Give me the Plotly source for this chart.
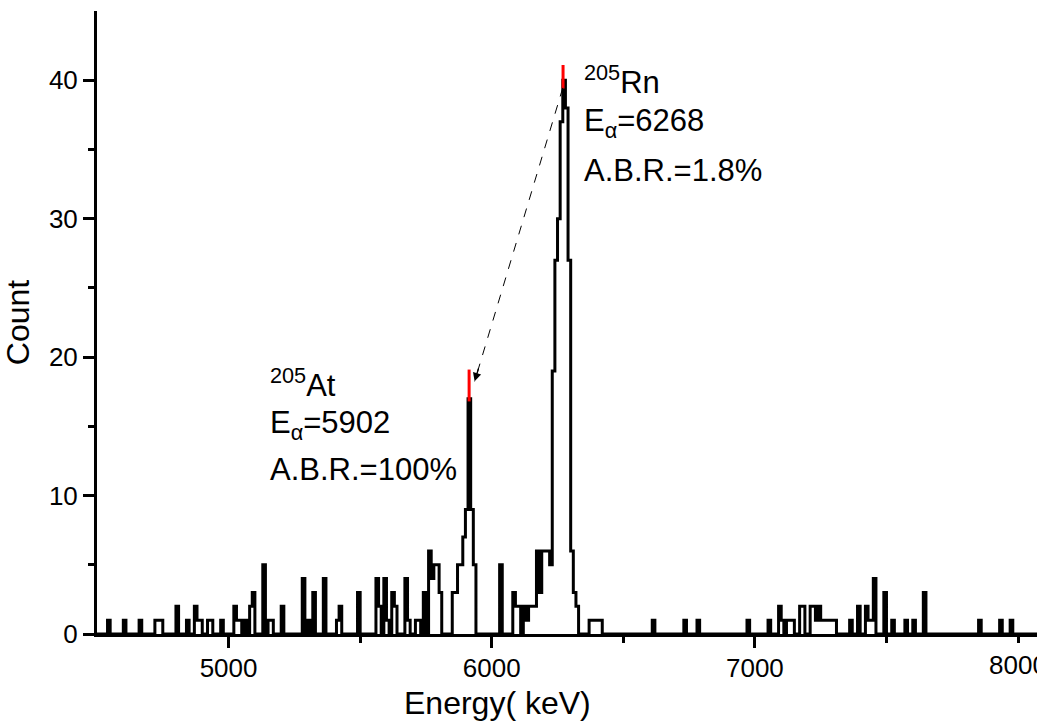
import numpy as np
import plotly.graph_objects as go

# ---- data: nonzero histogram bins (left edge in keV, 10 keV wide) ----
bin_left = [4540, 4600, 4660, 4720, 4730, 4740, 4800, 4840, 4870, 4880, 4890, 4920, 4930, 4970,
            5020, 5030, 5040, 5060, 5080, 5090, 5130, 5150, 5160, 5200, 5280, 5300, 5320, 5360,
            5410, 5420, 5490, 5560, 5570, 5590, 5600, 5620, 5630, 5670, 5680, 5710, 5720, 5740,
            5760, 5770, 5780, 5790, 5800,
            5850, 5860, 5870, 5880, 5890, 5900, 5910, 5920, 5930,
            6030, 6080, 6090, 6100, 6120, 6130, 6140, 6150, 6160,
            6170, 6180, 6190, 6200, 6210, 6220,
            6230, 6240, 6250, 6260, 6270, 6280, 6290, 6300, 6310, 6320,
            6370, 6380, 6390, 6400, 6410,
            6610, 6730, 6780, 6970, 7050, 7090, 7100, 7120, 7130, 7140, 7170, 7180,
            7210, 7220, 7230, 7240, 7250, 7260, 7270, 7280, 7290, 7300, 7360, 7390,
            7420, 7430, 7440, 7450, 7490, 7520, 7570, 7600, 7640, 7850, 7930, 7970]
bin_count = [1, 1, 1, 1, 1, 1, 2, 1, 2, 1, 1, 1, 1, 1,
             2, 1, 1, 1, 2, 3, 5, 1, 1, 2, 4, 1, 3, 4,
             1, 2, 3, 4, 2, 4, 1, 3, 2, 4, 1, 1, 1, 3,
             6, 4, 5, 5, 3,
             3, 3, 5, 5, 7, 9, 17, 9, 5,
             5, 3, 2, 2, 2, 1, 2, 2, 2,
             6, 3, 6, 6, 6, 5,
             19, 27, 30, 37, 40, 38, 27, 6, 3, 2,
             1, 1, 1, 1, 1,
             1, 1, 1, 1, 1, 2, 1, 1, 1, 1, 2, 2,
             2, 2, 1, 2, 1, 1, 1, 1, 1, 1, 1, 2,
             2, 1, 1, 4, 3, 1, 1, 1, 3, 1, 1, 1]
bin_width = 10
e_min, e_max = 4500, 8080

x_ticks = [5000, 6000, 7000, 8000]
y_ticks = [0, 10, 20, 30, 40]

# peaks: (energy marker, red low, red high), labels
at_marker = (5914, 16.8, 19.1)
rn_marker = (6271, 39.4, 41.1)
at_lines = ["<sup>205</sup>At", "E<sub>α</sub>=5902", "A.B.R.=100%"]
rn_lines = ["<sup>205</sup>Rn", "E<sub>α</sub>=6268", "A.B.R.=1.8%"]

# ---- build full histogram ----
edges = np.arange(e_min, e_max + bin_width, bin_width)
counts = np.zeros(len(edges) - 1)
for e, c in zip(bin_left, bin_count):
    counts[(e - e_min) // bin_width] = c
xs = edges
ys = np.append(counts, counts[-1])

fig = go.Figure()
fig.add_trace(go.Scatter(x=xs, y=ys, mode="lines", line=dict(shape="hv", color="black", width=3),
                         hoverinfo="skip", showlegend=False))

# red peak markers
for ex, lo, hi in [at_marker, rn_marker]:
    fig.add_shape(type="line", x0=ex, x1=ex, y0=lo, y1=hi, xref="x", yref="y",
                  line=dict(color="#ff0000", width=3))

# dashed arrow from Rn peak to At peak
tail = (6270, 39.45)
head = (5935, 18.25)
fig.add_shape(type="line", x0=tail[0], y0=tail[1], x1=head[0], y1=head[1], xref="x", yref="y",
              line=dict(color="black", width=1, dash="dash"))
fig.add_annotation(x=head[0], y=head[1], xref="x", yref="y", text="", showarrow=True,
                   ax=4.3, ay=-14.4, arrowhead=2, arrowsize=1.3, arrowwidth=1.3, arrowcolor="black")

font_fam = "Liberation Sans, Arial, sans-serif"
for lines, x0, ys_ in [(at_lines, 5148, [18.1, 15.1, 11.85]), (rn_lines, 6342, [40.0, 36.9, 33.5])]:
    for t, yy in zip(lines, ys_):
        fig.add_annotation(x=x0, y=yy, xref="x", yref="y", text=t, showarrow=False,
                           xanchor="left", yanchor="middle",
                           font=dict(family=font_fam, size=31, color="black"))

# 8000 tick label (clipped at the page edge like the reference)
fig.add_annotation(x=x_ticks[-1], y=0, xref="x", yref="paper", yshift=-14, text=str(x_ticks[-1]),
                   showarrow=False, xanchor="center", yanchor="top",
                   font=dict(family=font_fam, size=26, color="black"))

# x-axis title (offset left of the plot-area centre, as in the reference)
fig.add_annotation(x=(497 - 97) / 940, y=(634 - 703) / 623, xref="paper", yref="paper",
                   text="Energy( keV)", showarrow=False, xanchor="center", yanchor="middle",
                   font=dict(family=font_fam, size=32, color="black"))

fig.update_layout(
    width=1037, height=728,
    margin=dict(l=97, r=0, t=11, b=94),
    paper_bgcolor="white", plot_bgcolor="white",
    font=dict(family=font_fam, color="black"),
)
fig.update_xaxes(
    range=[4500, 8072], tickvals=x_ticks[:-1], ticktext=[str(v) for v in x_ticks[:-1]],
    showline=True, linecolor="black", linewidth=3, showgrid=False, zeroline=False,
    ticks="outside", ticklen=11, tickwidth=2.5, tickcolor="black", ticklabelstandoff=-2,
    minor=dict(tickvals=[5500, 6500, 7500, 8000], ticks="outside", ticklen=6, tickwidth=2.5, tickcolor="black"),
    tickfont=dict(size=26, family=font_fam),
)
fig.update_yaxes(
    range=[0, 45], tickvals=y_ticks, ticktext=[str(v) for v in y_ticks],
    showline=True, linecolor="black", linewidth=3, showgrid=False, zeroline=False,
    ticks="outside", ticklen=11, tickwidth=2.5, tickcolor="black",
    minor=dict(tickvals=[5, 15, 25, 35], ticks="outside", ticklen=6, tickwidth=2.5, tickcolor="black"),
    tickfont=dict(size=26, family=font_fam),
    title=dict(text="Count", font=dict(size=32, family=font_fam), standoff=12),
)

fig.write_html("out.html")
